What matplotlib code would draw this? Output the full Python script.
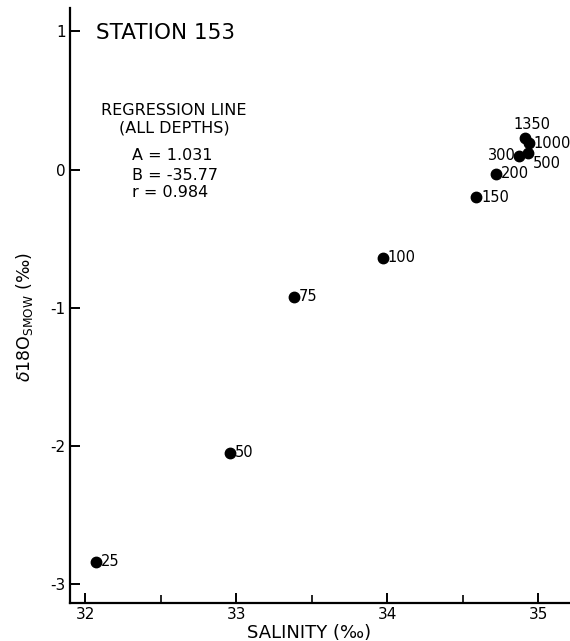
import matplotlib.pyplot as plt
from matplotlib.ticker import MultipleLocator

plt.rcParams['font.family'] = ['DejaVu Sans']
plt.rcParams['axes.unicode_minus'] = False

# depth (m), salinity, delta 18O
depths = ['25', '50', '75', '100', '150', '200', '300', '500', '1000', '1350']
salinity = [32.07, 32.96, 33.38, 33.97, 34.59, 34.72, 34.87, 34.93, 34.94, 34.91]
d18o = [-2.84, -2.05, -0.92, -0.64, -0.20, -0.03, 0.10, 0.12, 0.19, 0.23]
# label offsets (pixels) and alignment for each depth label
offsets = [(5, 0, 'left'), (5, 0, 'left'), (5, 0, 'left'), (5, 0, 'left'), (5, 0, 'left'),
           (5, 0, 'left'), (-3, 0, 'right'), (5, -11, 'left'), (4, 0, 'left'), (7, 13, 'center')]

fig = plt.figure(figsize=(5.7, 6.41), dpi=100)
ax = fig.add_axes([0.1228, 0.0593, 0.8772, 0.9282])

ax.plot(salinity, d18o, 'o', color='black', markersize=7.5, zorder=3)
for s, d, lab, (dx, dy, ha) in zip(salinity, d18o, depths, offsets):
    ax.annotate(lab, (s, d), xytext=(dx, dy), textcoords='offset pixels',
                ha=ha, va='center', fontsize=10.5)

ax.set_xlim(31.9, 35.21)
ax.set_ylim(-3.14, 1.17)
ax.xaxis.set_major_locator(MultipleLocator(1))
ax.xaxis.set_minor_locator(MultipleLocator(0.5))
ax.yaxis.set_major_locator(MultipleLocator(1))

for side in ['top', 'right']:
    ax.spines[side].set_visible(False)
for side in ['left', 'bottom']:
    ax.spines[side].set_linewidth(1.6)

ax.tick_params(axis='both', which='major', direction='in', length=7, width=1.4,
               labelsize=11, pad=3)
ax.tick_params(axis='x', which='minor', direction='in', length=6, width=1.2)

ax.set_xlabel('SALINITY (‰)', fontsize=13, labelpad=0)
ax.xaxis.set_label_coords(0.478, -0.036)
ax.set_ylabel(r'$\delta$18O$_{\mathrm{SMOW}}$ (‰)', fontsize=12.5)
ax.yaxis.set_label_coords(-0.07, 0.48)

ax.text(32.07, 0.99, 'STATION 153', fontsize=15.5, va='center', ha='left')
ax.text(32.59, 0.43, 'REGRESSION LINE', fontsize=11.5, ha='center', va='center')
ax.text(32.59, 0.30, '(ALL DEPTHS)', fontsize=11.5, ha='center', va='center')
ax.text(32.31, 0.10, 'A = 1.031', fontsize=11.5, ha='left', va='center')
ax.text(32.31, -0.04, 'B = -35.77', fontsize=11.5, ha='left', va='center')
ax.text(32.31, -0.17, 'r = 0.984', fontsize=11.5, ha='left', va='center')

fig.savefig('out.png', dpi=100)
